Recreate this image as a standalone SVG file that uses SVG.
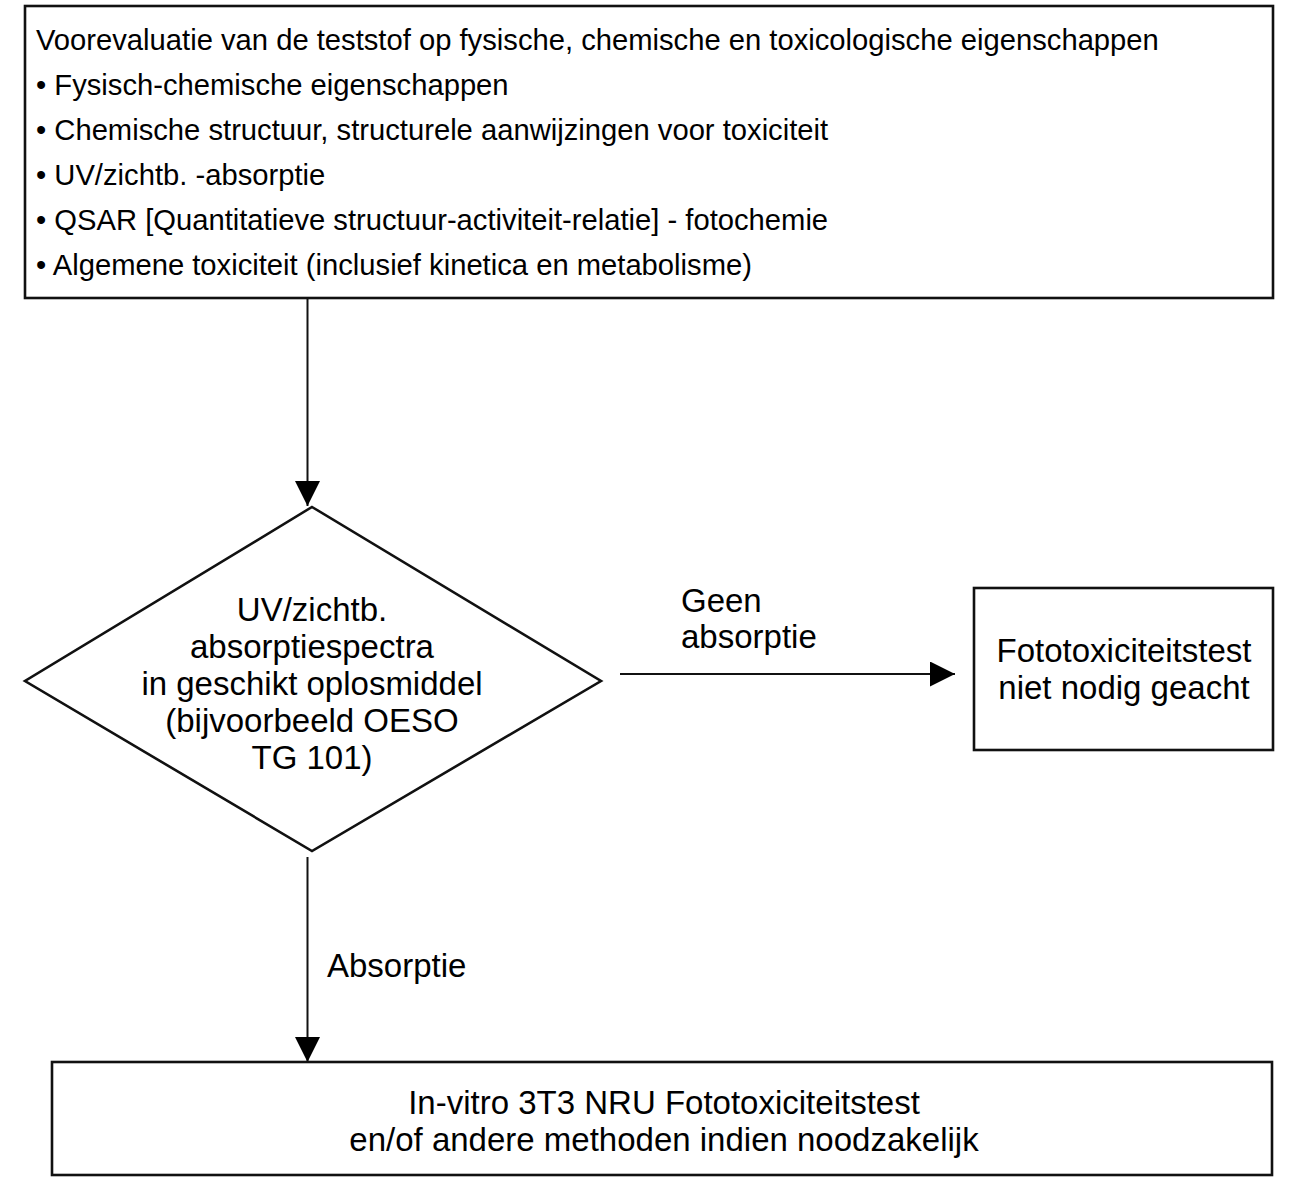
<svg xmlns="http://www.w3.org/2000/svg" width="1299" height="1181" viewBox="0 0 1299 1181">
<defs>
<style>
.box{fill:#fff;stroke:#111;stroke-width:2.6}
.conn{stroke:#111;stroke-width:2;fill:none}
.t{font-family:"Liberation Sans",Arial,sans-serif;fill:#000}
.top{font-size:29.2px}
.big{font-size:33px}
.c{text-anchor:middle}
</style>
<marker id="ah" markerUnits="userSpaceOnUse" markerWidth="26" markerHeight="26" viewBox="0 0 25 26" refX="25" refY="12.5" orient="auto">
<path d="M0,0 L25,12.5 L0,25 z" fill="#000"/>
</marker>
</defs>
<rect width="1299" height="1181" fill="#fff"/>
<g id="connectors">
<line class="conn" x1="307.5" y1="299" x2="307.5" y2="506" marker-end="url(#ah)"/>
<line class="conn" x1="620" y1="674" x2="955" y2="674" marker-end="url(#ah)"/>
<line class="conn" x1="307.5" y1="857" x2="307.5" y2="1062" marker-end="url(#ah)"/>
<text class="t big" x="681" y="612">Geen</text>
<text class="t big" x="681" y="648">absorptie</text>
<text class="t big" x="327" y="977">Absorptie</text>
</g>
<g id="preevaluation">
<rect class="box" x="25" y="6" width="1248" height="292"/>
<text class="t top" x="36" y="49.5">Voorevaluatie van de teststof op fysische, chemische en toxicologische eigenschappen</text>
<text class="t top" x="36" y="94.5">• Fysisch-chemische eigenschappen</text>
<text class="t top" x="36" y="139.5">• Chemische structuur, structurele aanwijzingen voor toxiciteit</text>
<text class="t top" x="36" y="184.5">• UV/zichtb. -absorptie</text>
<text class="t top" x="36" y="229.5">• QSAR [Quantitatieve structuur-activiteit-relatie] - fotochemie</text>
<text class="t top" x="36" y="274.5">• Algemene toxiciteit (inclusief kinetica en metabolisme)</text>
</g>
<g id="decision">
<polygon class="box" points="312,507 601,681 312,851 25,681"/>
<text class="t big c" x="312" y="621">UV/zichtb.</text>
<text class="t big c" x="312" y="658">absorptiespectra</text>
<text class="t big c" x="312" y="695">in geschikt oplosmiddel</text>
<text class="t big c" x="312" y="732">(bijvoorbeeld OESO</text>
<text class="t big c" x="312" y="769">TG 101)</text>
</g>
<g id="not-needed">
<rect class="box" x="974" y="588" width="299" height="162"/>
<text class="t big c" x="1124" y="662">Fototoxiciteitstest</text>
<text class="t big c" x="1124" y="699">niet nodig geacht</text>
</g>
<g id="in-vitro">
<rect class="box" x="52" y="1062" width="1220" height="113"/>
<text class="t big c" x="664" y="1114">In-vitro 3T3 NRU Fototoxiciteitstest</text>
<text class="t big c" x="664" y="1151">en/of andere methoden indien noodzakelijk</text>
</g>
</svg>
